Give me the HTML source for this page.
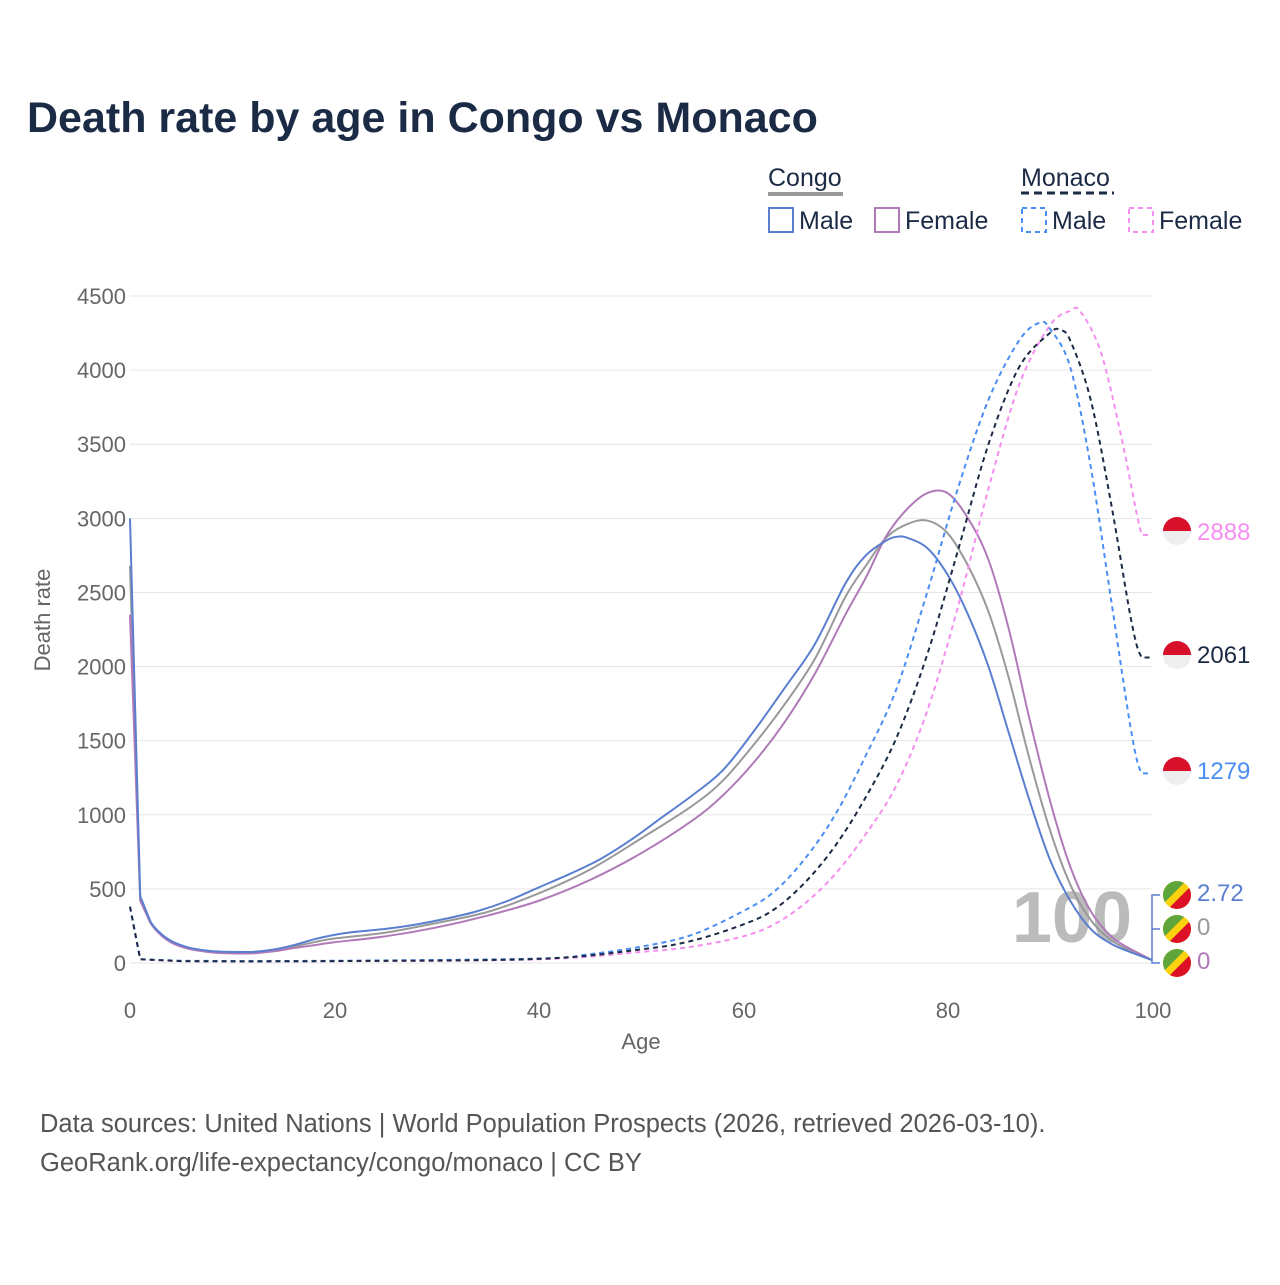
<!DOCTYPE html>
<html><head><meta charset="utf-8"><style>
body{margin:0;background:#fff;font-family:"Liberation Sans",sans-serif;}
</style></head><body>
<svg width="1280" height="1280" xmlns="http://www.w3.org/2000/svg" font-family="Liberation Sans, sans-serif">
<rect width="1280" height="1280" fill="#fff"/>
<text x="27" y="132" font-size="43" font-weight="bold" fill="#1c2b45">Death rate by age in Congo vs Monaco</text>
<g font-size="25" fill="#1c2b45">
<text x="768" y="186">Congo</text>
<line x1="768" y1="194" x2="843" y2="194" stroke="#999" stroke-width="4"/>
<text x="1021" y="186">Monaco</text>
<line x1="1021" y1="193" x2="1114" y2="193" stroke="#1c2b45" stroke-width="3" stroke-dasharray="8,5"/>
<rect x="769" y="208" width="24" height="24" fill="none" stroke="#5a7fcf" stroke-width="2"/>
<text x="799" y="229">Male</text>
<rect x="875" y="208" width="24" height="24" fill="none" stroke="#b07ab8" stroke-width="2"/>
<text x="905" y="229">Female</text>
<rect x="1022" y="208" width="24" height="24" fill="none" stroke="#4a8ef5" stroke-width="2" stroke-dasharray="5,4"/>
<text x="1052" y="229">Male</text>
<rect x="1129" y="208" width="24" height="24" fill="none" stroke="#f58ef0" stroke-width="2" stroke-dasharray="5,4"/>
<text x="1159" y="229">Female</text>
</g>
<g stroke="#e6e6e6" stroke-width="1" id="grid"></g>
<g font-size="22" fill="#666" text-anchor="end" id="ylab"></g>
<g font-size="22" fill="#666" text-anchor="middle">
<text x="130" y="1018">0</text><text x="335" y="1018">20</text><text x="539" y="1018">40</text><text x="744" y="1018">60</text><text x="948" y="1018">80</text><text x="1153" y="1018">100</text>
<text x="641" y="1049">Age</text>
</g>
<text transform="translate(50,620) rotate(-90)" font-size="22" fill="#666" text-anchor="middle">Death rate</text>
<text x="1132" y="942" font-size="72" font-weight="bold" fill="#bbb" text-anchor="end">100</text>
<g id="series" fill="none" stroke-width="2"></g>
<path d="M1160 895 H1152 V963 H1160 M1152 929 H1160" stroke="#5a7fcf" fill="none" stroke-width="1.5"/>
<g id="flags"></g>
<g font-size="24">
<text x="1197" y="540" fill="#f58ef0">2888</text>
<text x="1197" y="663" fill="#1c2b45">2061</text>
<text x="1197" y="779" fill="#4a8ef5">1279</text>
<text x="1197" y="901" fill="#5a7fcf">2.72</text>
<text x="1197" y="935" fill="#999">0</text>
<text x="1197" y="969" fill="#b07ab8">0</text>
</g>
<g font-size="25.5" fill="#555">
<text x="40" y="1132">Data sources: United Nations | World Population Prospects (2026, retrieved 2026-03-10).</text>
<text x="40" y="1171">GeoRank.org/life-expectancy/congo/monaco | CC BY</text>
</g>
</svg>
<script>
const X=a=>130+a*10.22, Y=v=>963-v*0.14822;
const ns="http://www.w3.org/2000/svg";
const g=document.getElementById('grid'), yl=document.getElementById('ylab');
for(let v=0;v<=4500;v+=500){const l=document.createElementNS(ns,'line');l.setAttribute('x1',130);l.setAttribute('x2',1152);l.setAttribute('y1',Y(v));l.setAttribute('y2',Y(v));g.appendChild(l);
const t=document.createElementNS(ns,'text');t.setAttribute('x',126);t.setAttribute('y',Y(v)+8);t.textContent=v;yl.appendChild(t);}
const cm=[[0,3000],[1,450],[2,280],[3,200],[4,150],[5,120],[6,100],[8,80],[10,75],[12,75],[14,90],[16,120],[18,160],[20,190],[22,210],[25,230],[28,260],[31,300],[34,350],[37,420],[40,510],[43,600],[46,700],[49,830],[52,980],[55,1130],[58,1300],[61,1560],[64,1850],[67,2150],[70,2560],[72,2750],[74,2850],[75,2875],[76,2870],[78,2800],[80,2620],[82,2350],[84,2000],[86,1550],[88,1100],[90,700],[92,420],[94,230],[96,130],[98,70],[100,20]];
const cf=[[0,2350],[1,420],[2,270],[3,190],[4,140],[5,110],[6,92],[8,72],[10,65],[12,65],[14,78],[16,100],[18,120],[20,140],[25,180],[30,240],[35,320],[40,420],[45,560],[50,740],[55,960],[58,1130],[61,1350],[64,1620],[67,1950],[70,2350],[72,2600],[74,2880],[76,3060],[78,3170],[80,3170],[82,3000],[84,2720],[86,2250],[88,1650],[90,1100],[92,650],[94,350],[96,180],[98,90],[100,20]];
const ct=[[0,2680],[1,435],[2,275],[3,195],[4,145],[5,115],[6,96],[8,76],[10,70],[12,70],[14,84],[16,110],[18,140],[20,165],[25,205],[30,270],[35,345],[40,470],[45,630],[50,840],[55,1060],[58,1230],[61,1470],[64,1740],[67,2050],[70,2470],[72,2680],[74,2870],[76,2960],[78,2985],[80,2900],[82,2680],[84,2370],[86,1920],[88,1380],[90,900],[92,530],[94,290],[96,155],[98,80],[100,20]];
const mm=[[0,380],[1,25],[5,15],[20,15],[40,30],[45,60],[50,110],[55,190],[60,350],[63,480],[66,700],[69,1000],[72,1400],[75,1850],[78,2500],[81,3200],[84,3800],[87,4200],[89,4320],[90,4280],[92,4020],[94,3350],[96,2450],[98,1550],[99,1279],[100,1279]];
const mf=[[0,380],[1,25],[5,12],[20,12],[40,25],[50,75],[55,110],[60,180],[63,260],[66,400],[69,600],[72,870],[75,1200],[78,1700],[81,2400],[84,3200],[87,3900],[90,4300],[92,4400],[93,4395],[95,4120],[97,3550],[99,2888],[100,2888]];
const mt=[[0,380],[1,25],[5,13],[20,13],[40,28],[50,92],[55,150],[60,260],[63,360],[66,540],[69,790],[72,1120],[75,1520],[78,2080],[81,2780],[84,3500],[87,4020],[90,4250],[91,4270],[92,4200],[94,3800],[96,3100],[98,2300],[99,2061],[100,2061]];
function path(d){let s='';const n=d.length;for(let i=0;i<n;i++){const p0=d[Math.max(i-1,0)],p1=d[i],p2=d[Math.min(i+1,n-1)],p3=d[Math.min(i+2,n-1)];if(i==0)s+='M'+X(p1[0])+' '+Y(p1[1]);if(i==n-1)break;
if(i<2||i>=n-2){s+='L'+X(p2[0])+' '+Y(p2[1]);continue;}
const c1=[p1[0]+(p2[0]-p0[0])/6,p1[1]+(p2[1]-p0[1])/6],c2=[p2[0]-(p3[0]-p1[0])/6,p2[1]-(p3[1]-p1[1])/6];
s+='C'+X(c1[0])+' '+Y(c1[1])+' '+X(c2[0])+' '+Y(c2[1])+' '+X(p2[0])+' '+Y(p2[1]);}return s;}
const S=document.getElementById('series');
[[ct,'#999',''],[cf,'#b07ab8',''],[cm,'#5a7fcf',''],[mf,'#f58ef0','5,4'],[mm,'#4a8ef5','5,4'],[mt,'#1c2b45','5,4']].forEach(([d,c,da])=>{const p=document.createElementNS(ns,'path');p.setAttribute('d',path(d));p.setAttribute('stroke',c);if(da)p.setAttribute('stroke-dasharray',da);S.appendChild(p);});
const F=document.getElementById('flags');let h='';
[531,655,771].forEach(y=>{h+=`<circle cx="1177" cy="${y}" r="14" fill="#eee"/><path d="M1163 ${y} A14 14 0 0 1 1191 ${y} Z" fill="#d8102a"/>`;});
[895,929,963].forEach((y,i)=>{h+=`<clipPath id="c${i}"><circle cx="1177" cy="${y}" r="14"/></clipPath><g clip-path="url(#c${i})"><rect x="1163" y="${y-14}" width="28" height="28" fill="#fcd20f"/><path d="M1163 ${y-14} H1186 L1163 ${y+9}Z" fill="#5ea53a"/><path d="M1191 ${y+14} H1168 L1191 ${y-9}Z" fill="#dc1027"/></g>`;});
F.innerHTML=h;
</script>
</body></html>
